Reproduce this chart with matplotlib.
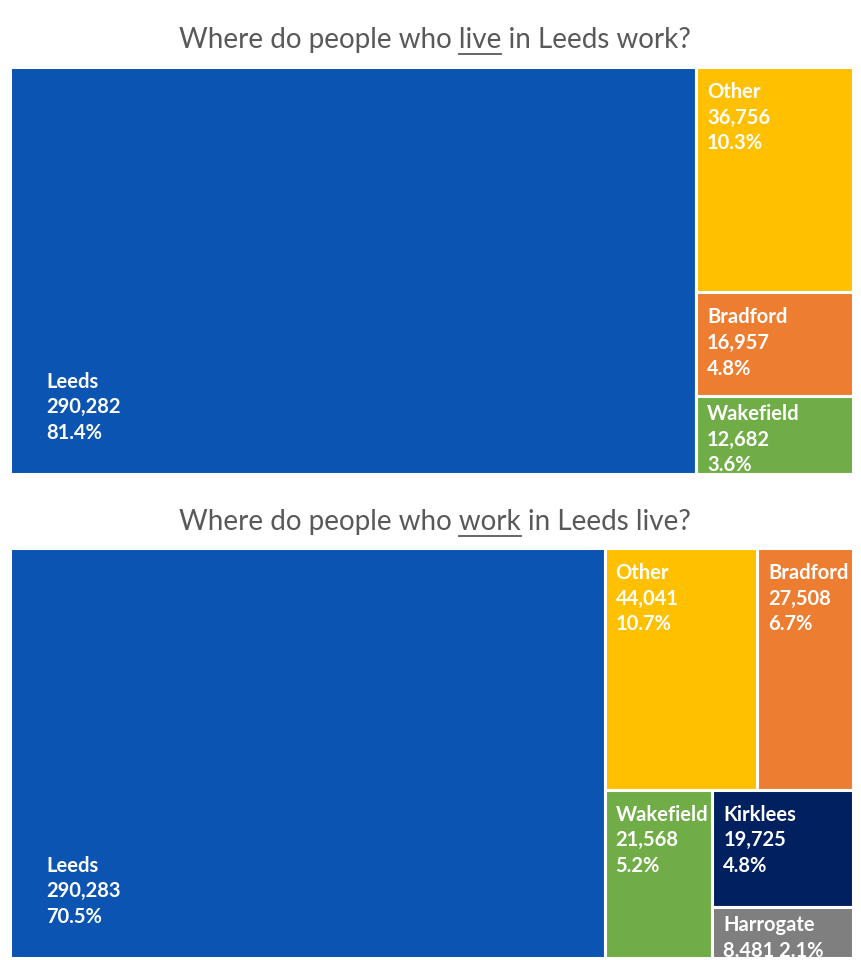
import matplotlib
matplotlib.use("Agg")
import matplotlib.pyplot as plt
from matplotlib.patches import Rectangle

# top chart: where Leeds residents work
live_names = ["Leeds", "Other", "Bradford", "Wakefield"]
live_values = [290282, 36756, 16957, 12682]
# nesting of tiles as Excel laid them out (indices into the lists above)
live_layout = [0, [1, 2, 3]]

# bottom chart: where Leeds workers live
work_names = ["Leeds", "Other", "Bradford", "Wakefield", "Kirklees", "Harrogate"]
work_values = [290283, 44041, 27508, 21568, 19725, 8481]
work_layout = [0, [[1, 2], [3, [4, 5]]]]

colours = {"Leeds": "#0B54B1", "Other": "#FFC000", "Bradford": "#ED7D31",
           "Wakefield": "#70AD47", "Kirklees": "#002060", "Harrogate": "#7F7F7F"}

TITLE_COL = "#595959"
FONT = "Lato"
TITLE_SIZE = 20
LABEL_SIZE = 14.5


def node_total(node, values):
    if isinstance(node, list):
        return sum(node_total(n, values) for n in node)
    return values[node]


def slice_dice(node, values, x, y, w, h, horizontal, out):
    """ recursive slice and dice, alternating direction each level """
    if not isinstance(node, list):
        out[node] = (x, y, w, h)
        return
    total = node_total(node, values)
    pos = 0.0
    for child in node:
        frac = node_total(child, values) / total
        if horizontal:
            slice_dice(child, values, x + pos * w, y, frac * w, h, False, out)
        else:
            slice_dice(child, values, x, y + pos * h, w, frac * h, True, out)
        pos += frac


def draw_title(ax, fig, cx, cy, before, word, after):
    full = before + word + after
    t = ax.text(cx, cy, full, ha="center", va="center", fontsize=TITLE_SIZE,
                color=TITLE_COL, family=FONT)
    fig.canvas.draw()
    r = fig.canvas.get_renderer()
    bb = t.get_window_extent(r)
    tmp = ax.text(0, 0, before, fontsize=TITLE_SIZE, family=FONT)
    w_before = tmp.get_window_extent(r).width
    tmp.set_text(before + word)
    w_word = tmp.get_window_extent(r).width
    tmp.remove()
    # figure pixels -> data (y flipped, same size as figure)
    x0 = bb.x0 + w_before
    x1 = bb.x0 + w_word
    y_line = 960 - bb.y0 + 1
    ax.plot([x0, x1], [y_line, y_line], color=TITLE_COL, lw=1.3)


def draw_treemap(ax, names, values, layout, box):
    x, y, w, h = box
    rects = {}
    slice_dice(layout, values, x, y, w, h, True, rects)
    total = sum(values)
    for i, name in enumerate(names):
        rx, ry, rw, rh = rects[i]
        patch = Rectangle((rx, ry), rw, rh, facecolor=colours[name],
                          edgecolor="white", lw=2.2)
        ax.add_patch(patch)
        pct = values[i] / total * 100
        if rh < 60:
            label = "%s\n%s %.1f%%" % (name, format(values[i], ","), pct)
        else:
            label = "%s\n%s\n%.1f%%" % (name, format(values[i], ","), pct)
        if i == 0:
            tx, ty, va = rx + 36, ry + rh - 31, "bottom"
        else:
            # small tiles get less top padding so more of the label shows
            pad = 15 if rh >= 95 else 8
            tx, ty, va = rx + 11, ry + pad, "top"
        txt = ax.text(tx, ty, label, ha="left", va=va, color="white",
                      fontsize=LABEL_SIZE, fontweight="bold", family=FONT,
                      linespacing=1.35)
        txt.set_clip_path(patch)


fig = plt.figure(figsize=(8.61, 9.6), dpi=100)
ax = fig.add_axes([0, 0, 1, 1])
ax.set_xlim(0, 861)
ax.set_ylim(960, 0)
ax.axis("off")

draw_treemap(ax, live_names, live_values, live_layout, (10, 67, 843, 407))
draw_treemap(ax, work_names, work_values, work_layout, (10, 548, 843, 410))

draw_title(ax, fig, 435, 40, "Where do people who ", "live", " in Leeds work?")
draw_title(ax, fig, 435, 522, "Where do people who ", "work", " in Leeds live?")

fig.savefig("out.png", dpi=100)
